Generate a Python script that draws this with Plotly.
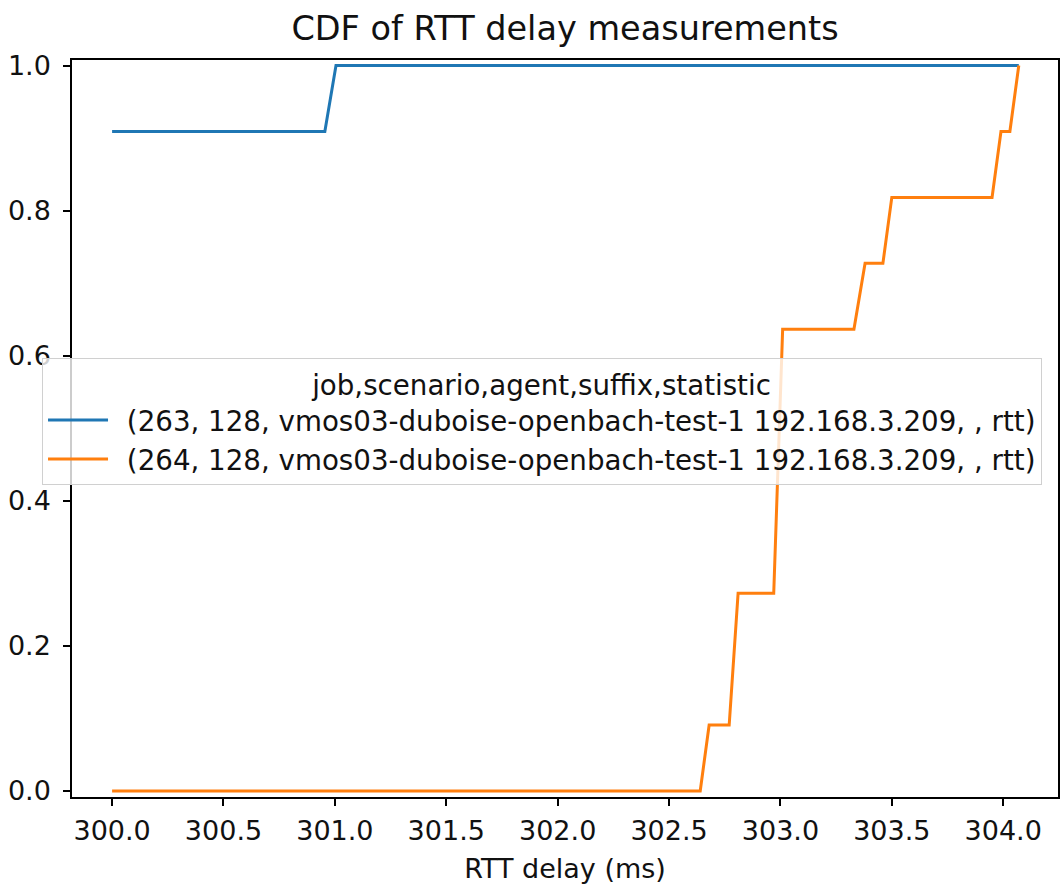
import plotly.graph_objects as go

# Data (CDF vertices)
blue_label = "(263, 128, vmos03-duboise-openbach-test-1 192.168.3.209, , rtt)"
orange_label = "(264, 128, vmos03-duboise-openbach-test-1 192.168.3.209, , rtt)"
legend_title = "job,scenario,agent,suffix,statistic"

blue_x = [300.0, 300.955, 301.005, 304.07]
blue_y = [0.9091, 0.9091, 1.0, 1.0]

orange_x = [300.0, 302.64, 302.68, 302.77, 302.81, 302.97, 303.01, 303.33,
            303.38, 303.46, 303.50, 303.95, 303.99, 304.03, 304.07]
orange_y = [0.0, 0.0, 0.0909, 0.0909, 0.2727, 0.2727, 0.6364, 0.6364,
            0.7273, 0.7273, 0.8182, 0.8182, 0.9091, 0.9091, 1.0]

x_ticks = [300.0, 300.5, 301.0, 301.5, 302.0, 302.5, 303.0, 303.5, 304.0]
y_ticks = [0.0, 0.2, 0.4, 0.6, 0.8, 1.0]

FONT = "DejaVu Sans"
TXT = "#111111"
GAP = "\u2002"  # small gap between legend line sample and its text

fig = go.Figure()
fig.add_trace(go.Scatter(x=blue_x, y=blue_y, mode="lines", name=GAP + blue_label,
                         line=dict(color="#1f77b4", width=3)))
fig.add_trace(go.Scatter(x=orange_x, y=orange_y, mode="lines", name=GAP + orange_label,
                         line=dict(color="#ff7f0e", width=3)))

axis_common = dict(
    showline=True, mirror=True, linecolor="black", linewidth=1.5,
    ticks="outside", ticklen=7, tickwidth=1.5, tickcolor="black",
    showgrid=False, zeroline=False,
    tickfont=dict(family=FONT, size=27, color=TXT),
)

fig.update_layout(
    width=1062, height=884,
    margin=dict(l=72, r=4, t=60, b=87, autoexpand=False),
    paper_bgcolor="white", plot_bgcolor="white",
    font=dict(family=FONT, color=TXT),
    title=dict(text="CDF of RTT delay measurements", x=0.5, xref="paper",
               xanchor="center", y=0.968, yanchor="middle",
               font=dict(family=FONT, size=33.5, color=TXT)),
    xaxis=dict(range=[299.82, 304.246], tickvals=x_ticks,
               ticktext=[f"{v:.1f}" for v in x_ticks],
               ticklabelstandoff=2,
               title=dict(text="RTT delay (ms)", standoff=16,
                          font=dict(family=FONT, size=27, color=TXT)),
               **axis_common),
    yaxis=dict(range=[-0.0083, 1.0076], tickvals=y_ticks,
               ticktext=[f"{v:.1f}" for v in y_ticks],
               ticklabelstandoff=7,
               **axis_common),
    legend=dict(
        x=-0.0304, y=0.595, xanchor="left", yanchor="top",
        bgcolor="rgba(255,255,255,0.8)", bordercolor="#d0d0d0", borderwidth=1,
        font=dict(family=FONT, size=27.7, color=TXT),
        title=dict(text=legend_title, side="top center",
                   font=dict(family=FONT, size=27.7, color=TXT)),
        itemwidth=60, tracegroupgap=0,
    ),
    showlegend=True,
)

fig.write_html(
    "out.html",
    config={"displayModeBar": False},
    post_script="document.body.style.margin='0';document.body.style.overflow='hidden';",
)
